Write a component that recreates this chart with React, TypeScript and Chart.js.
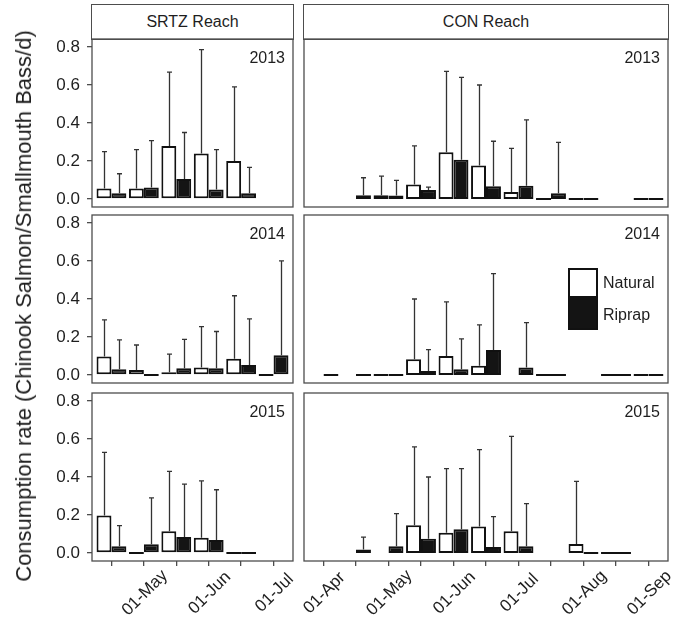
import { useEffect, useRef } from 'react';
import { Chart, registerables } from 'chart.js';
Chart.register(...registerables);

// ---------- data ----------
const xTickLabels = ['01-Apr', '', '01-May', '', '01-Jun', '', '01-Jul', '', '01-Aug', '', '01-Sep'];
const yTicks = [0, 0.2, 0.4, 0.6, 0.8];
const seriesNames = ['Natural', 'Riprap'];
const reaches = ['SRTZ Reach', 'CON Reach'];
const years = ['2013', '2014', '2015'];

// half-month period index (0 = 01-Apr, 1 = mid-Apr, 2 = 01-May, ...)
const srtzPeriods = [1, 2, 3, 4, 5, 6];
const conPeriods = [0, 1, 2, 3, 4, 5, 6, 7, 8, 9, 10];

// SRTZ Reach
const srtz2013Natural = [0.056, 0.056, 0.279, 0.239, 0.2, null];
const srtz2013NaturalUpper = [0.249, 0.26, 0.668, 0.786, 0.59, null];
const srtz2013Riprap = [0.03, 0.06, 0.105, 0.05, 0.03, null];
const srtz2013RiprapUpper = [0.133, 0.307, 0.35, 0.26, 0.167, null];

const srtz2014Natural = [0.097, 0.026, 0.014, 0.04, 0.086, 0];
const srtz2014NaturalUpper = [0.29, 0.158, 0.11, 0.255, 0.417, null];
const srtz2014Riprap = [0.03, 0, 0.035, 0.035, 0.053, 0.104];
const srtz2014RiprapUpper = [0.185, null, 0.188, 0.229, 0.295, 0.601];

const srtz2015Natural = [0.198, 0, 0.114, 0.08, 0, null];
const srtz2015NaturalUpper = [0.53, null, 0.43, 0.38, null, null];
const srtz2015Riprap = [0.035, 0.046, 0.084, 0.068, 0, null];
const srtz2015RiprapUpper = [0.144, 0.29, 0.363, 0.333, null, null];

// CON Reach
const con2013Natural = [null, null, 0.02, 0.077, 0.246, 0.177, 0.037, 0, 0, null, 0];
const con2013NaturalUpper = [null, null, 0.12, 0.28, 0.672, 0.6, 0.267, null, null, null, null];
const con2013Riprap = [null, 0.02, 0.018, 0.047, 0.207, 0.067, 0.07, 0.03, 0, null, 0];
const con2013RiprapUpper = [null, 0.112, 0.098, 0.063, 0.64, 0.304, 0.416, 0.298, null, null, null];

const con2014Natural = [null, null, 0, 0.083, 0.1, 0.049, null, 0, null, 0, 0];
const con2014NaturalUpper = [null, null, null, 0.4, 0.385, 0.264, null, null, null, null, null];
const con2014Riprap = [0, 0, 0, 0.021, 0.03, 0.132, 0.039, 0, null, 0, 0];
const con2014RiprapUpper = [null, null, null, 0.134, 0.19, 0.533, 0.276, null, null, null, null];

const con2015Natural = [null, null, null, 0.146, 0.107, 0.14, 0.114, null, 0.047, 0, null];
const con2015NaturalUpper = [null, null, null, 0.558, 0.444, 0.544, 0.614, null, 0.377, null, null];
const con2015Riprap = [null, 0.018, 0.035, 0.075, 0.125, 0.032, 0.035, null, 0, 0, null];
const con2015RiprapUpper = [null, 0.084, 0.207, 0.4, 0.444, 0.191, 0.26, null, null, null, null];

// ---------- layout / style ----------
const FONT = 'Liberation Sans, Arial, Helvetica, sans-serif';
const FRAME = '#4d4d4d';
const TEXT = '#1e1e1e';
const colX = [92, 304];
const colW = [201, 364];
const colMin = [0.4, -0.6];
const colMax = [6.6, 10.6];
const rowY = [39, 215, 393];
const ROW_H = 168;

type Cfg = {
  col: number; row: number; periods: number[];
  nat: (number | null)[]; natU: (number | null)[];
  rip: (number | null)[]; ripU: (number | null)[];
};

const panels: Cfg[] = [
  { col: 0, row: 0, periods: srtzPeriods, nat: srtz2013Natural, natU: srtz2013NaturalUpper, rip: srtz2013Riprap, ripU: srtz2013RiprapUpper },
  { col: 1, row: 0, periods: conPeriods, nat: con2013Natural, natU: con2013NaturalUpper, rip: con2013Riprap, ripU: con2013RiprapUpper },
  { col: 0, row: 1, periods: srtzPeriods, nat: srtz2014Natural, natU: srtz2014NaturalUpper, rip: srtz2014Riprap, ripU: srtz2014RiprapUpper },
  { col: 1, row: 1, periods: conPeriods, nat: con2014Natural, natU: con2014NaturalUpper, rip: con2014Riprap, ripU: con2014RiprapUpper },
  { col: 0, row: 2, periods: srtzPeriods, nat: srtz2015Natural, natU: srtz2015NaturalUpper, rip: srtz2015Riprap, ripU: srtz2015RiprapUpper },
  { col: 1, row: 2, periods: conPeriods, nat: con2015Natural, natU: con2015NaturalUpper, rip: con2015Riprap, ripU: con2015RiprapUpper },
];

const errorPlugin = {
  id: 'errBars',
  afterDatasetsDraw(chart: any) {
    const ctx = chart.ctx;
    const y = chart.scales.y;
    ctx.save();
    ctx.strokeStyle = '#333';
    ctx.lineWidth = 1.3;
    chart.data.datasets.forEach((ds: any, di: number) => {
      const meta = chart.getDatasetMeta(di);
      meta.data.forEach((el: any, i: number) => {
        const v = ds.data[i].y;
        const u = ds.upper[i];
        if (v === null || u === null || u === undefined) return;
        const yt = y.getPixelForValue(u);
        const x = Math.round(el.x) + 0.5;
        ctx.beginPath();
        ctx.moveTo(x, el.y);
        ctx.lineTo(x, yt);
        ctx.moveTo(x - 2.5, yt);
        ctx.lineTo(x + 2.5, yt);
        ctx.stroke();
      });
    });
    ctx.restore();
  },
};

const framePlugin = {
  id: 'frame',
  afterDraw(chart: any) {
    const { left, top, right, bottom } = chart.chartArea;
    const ctx = chart.ctx;
    ctx.save();
    ctx.strokeStyle = FRAME;
    ctx.lineWidth = 1.3;
    ctx.strokeRect(left, top, right - left, bottom - top);
    const yr = chart.options.plugins.yearLabel?.text;
    if (yr) {
      ctx.fillStyle = TEXT;
      ctx.font = `16px ${FONT}`;
      ctx.textAlign = 'right';
      ctx.textBaseline = 'middle';
      ctx.fillText(yr, right - 8, top + 20);
    }
    if (chart.options.plugins.xLabels?.show) {
      const xs = chart.scales.x;
      ctx.font = `17px ${FONT}`;
      ctx.fillStyle = TEXT;
      ctx.textAlign = 'center';
      ctx.textBaseline = 'middle';
      xs.ticks.forEach((t: any) => {
        const lab = xTickLabels[t.value];
        if (!lab) return;
        const px = xs.getPixelForValue(t.value);
        ctx.save();
        ctx.translate(px + 1, bottom + 32);
        ctx.rotate(-Math.PI / 4);
        ctx.fillText(lab, 0, 0);
        ctx.restore();
      });
    }
    ctx.restore();
  },
};

function Panel({ cfg }: { cfg: Cfg }) {
  const ref = useRef<HTMLCanvasElement>(null);
  const showY = cfg.col === 0;
  const showX = cfg.row === 2;
  const L = showY ? colX[0] : (showX ? 30 : 3);
  const R = showX ? (cfg.col === 0 ? 20 : 19) : 3;
  const T = 3;
  const B = showX ? 62 : 3;
  const width = L + colW[cfg.col] + R;
  const height = T + ROW_H + B;
  const left = colX[cfg.col] - L;
  const top = rowY[cfg.row] - T;

  useEffect(() => {
    const tickIdx = cfg.col === 0 ? srtzPeriods : conPeriods;
    const mk = (vals: (number | null)[], ups: (number | null)[], si: number) => ({
      label: seriesNames[si],
      data: cfg.periods.map((p, i) => ({ x: p, y: vals[i] })),
      upper: ups,
      backgroundColor: si === 0 ? '#ffffff' : '#141414',
      borderColor: '#111111',
      borderWidth: 2,
      borderSkipped: false,
      minBarLength: 2,
      categoryPercentage: 0.92,
      barPercentage: 1,
    });
    const gridOpts = {
      display: true, offset: false, drawOnChartArea: false, drawTicks: true,
      tickLength: 5, color: FRAME, lineWidth: 1.3,
    };
    const chart = new Chart(ref.current as HTMLCanvasElement, {
      type: 'bar',
      data: { datasets: [mk(cfg.nat, cfg.natU, 0), mk(cfg.rip, cfg.ripU, 1)] as any },
      options: {
        animation: false,
        responsive: false,
        maintainAspectRatio: false,
        events: [],
        layout: { padding: { left: showY ? 0 : L, right: R, top: T, bottom: showX ? 0 : B } },
        plugins: {
          legend: { display: false },
          tooltip: { enabled: false },
          yearLabel: { text: years[cfg.row] },
          xLabels: { show: showX },
        } as any,
        scales: {
          x: {
            type: 'linear', min: colMin[cfg.col], max: colMax[cfg.col], offset: false,
            display: showX, bounds: 'data',
            grid: gridOpts, border: { display: false },
            ticks: { display: false },
            afterBuildTicks: (s: any) => { s.ticks = tickIdx.map((v) => ({ value: v })); },
            ...(showX ? { afterFit: (s: any) => { s.height = B; s.paddingLeft = 0; s.paddingRight = 0; } } : {}),
          },
          y: {
            type: 'linear', min: -0.042, max: 0.842, display: showY,
            grid: gridOpts, border: { display: false },
            ticks: {
              font: { family: FONT, size: 17 }, color: TEXT, padding: 7,
              callback: (v: any) => Number(v).toFixed(1),
            },
            afterBuildTicks: (s: any) => { s.ticks = yTicks.map((v) => ({ value: v })); },
            ...(showY ? { afterFit: (s: any) => { s.width = L; s.paddingTop = 0; s.paddingBottom = 0; } } : {}),
          },
        } as any,
      },
      plugins: [errorPlugin, framePlugin],
    });
    return () => chart.destroy();
  }, []);

  return (
    <canvas
      ref={ref}
      width={width}
      height={height}
      style={{ position: 'absolute', left, top, width, height, display: 'block' }}
    />
  );
}

export default function App() {
  return (
    <div style={{ position: 'absolute', left: 0, top: 0, width: 687, height: 623, background: '#fff', overflow: 'hidden', fontFamily: FONT, color: TEXT }}>
      {reaches.map((r, c) => (
        <div key={r} style={{
          position: 'absolute', left: colX[c] - 0.6, top: 4.4, width: colW[c] + 1.2, height: 35.2,
          boxSizing: 'border-box', border: `1.3px solid ${FRAME}`, background: '#fff',
          display: 'flex', alignItems: 'center', justifyContent: 'center', fontSize: 16,
        }}>{r}</div>
      ))}
      {panels.map((p, i) => <Panel key={i} cfg={p} />)}
      <div style={{ position: 'absolute', left: 568, top: 268, width: 30, height: 30, boxSizing: 'border-box', border: '2px solid #111', background: '#fff' }} />
      <div style={{ position: 'absolute', left: 568, top: 298, width: 30, height: 32, boxSizing: 'border-box', border: '2px solid #111', background: '#141414' }} />
      <div style={{ position: 'absolute', left: 603, top: 283, transform: 'translateY(-50%)', fontSize: 16, whiteSpace: 'nowrap' }}>{seriesNames[0]}</div>
      <div style={{ position: 'absolute', left: 603, top: 315, transform: 'translateY(-50%)', fontSize: 16, whiteSpace: 'nowrap' }}>{seriesNames[1]}</div>
      <div style={{
        position: 'absolute', left: 24, top: 306, transform: 'translate(-50%, -50%) rotate(-90deg)',
        fontSize: 22, whiteSpace: 'nowrap', lineHeight: 1,
      }}>Consumption rate (Chinook Salmon/Smallmouth Bass/d)</div>
    </div>
  );
}
